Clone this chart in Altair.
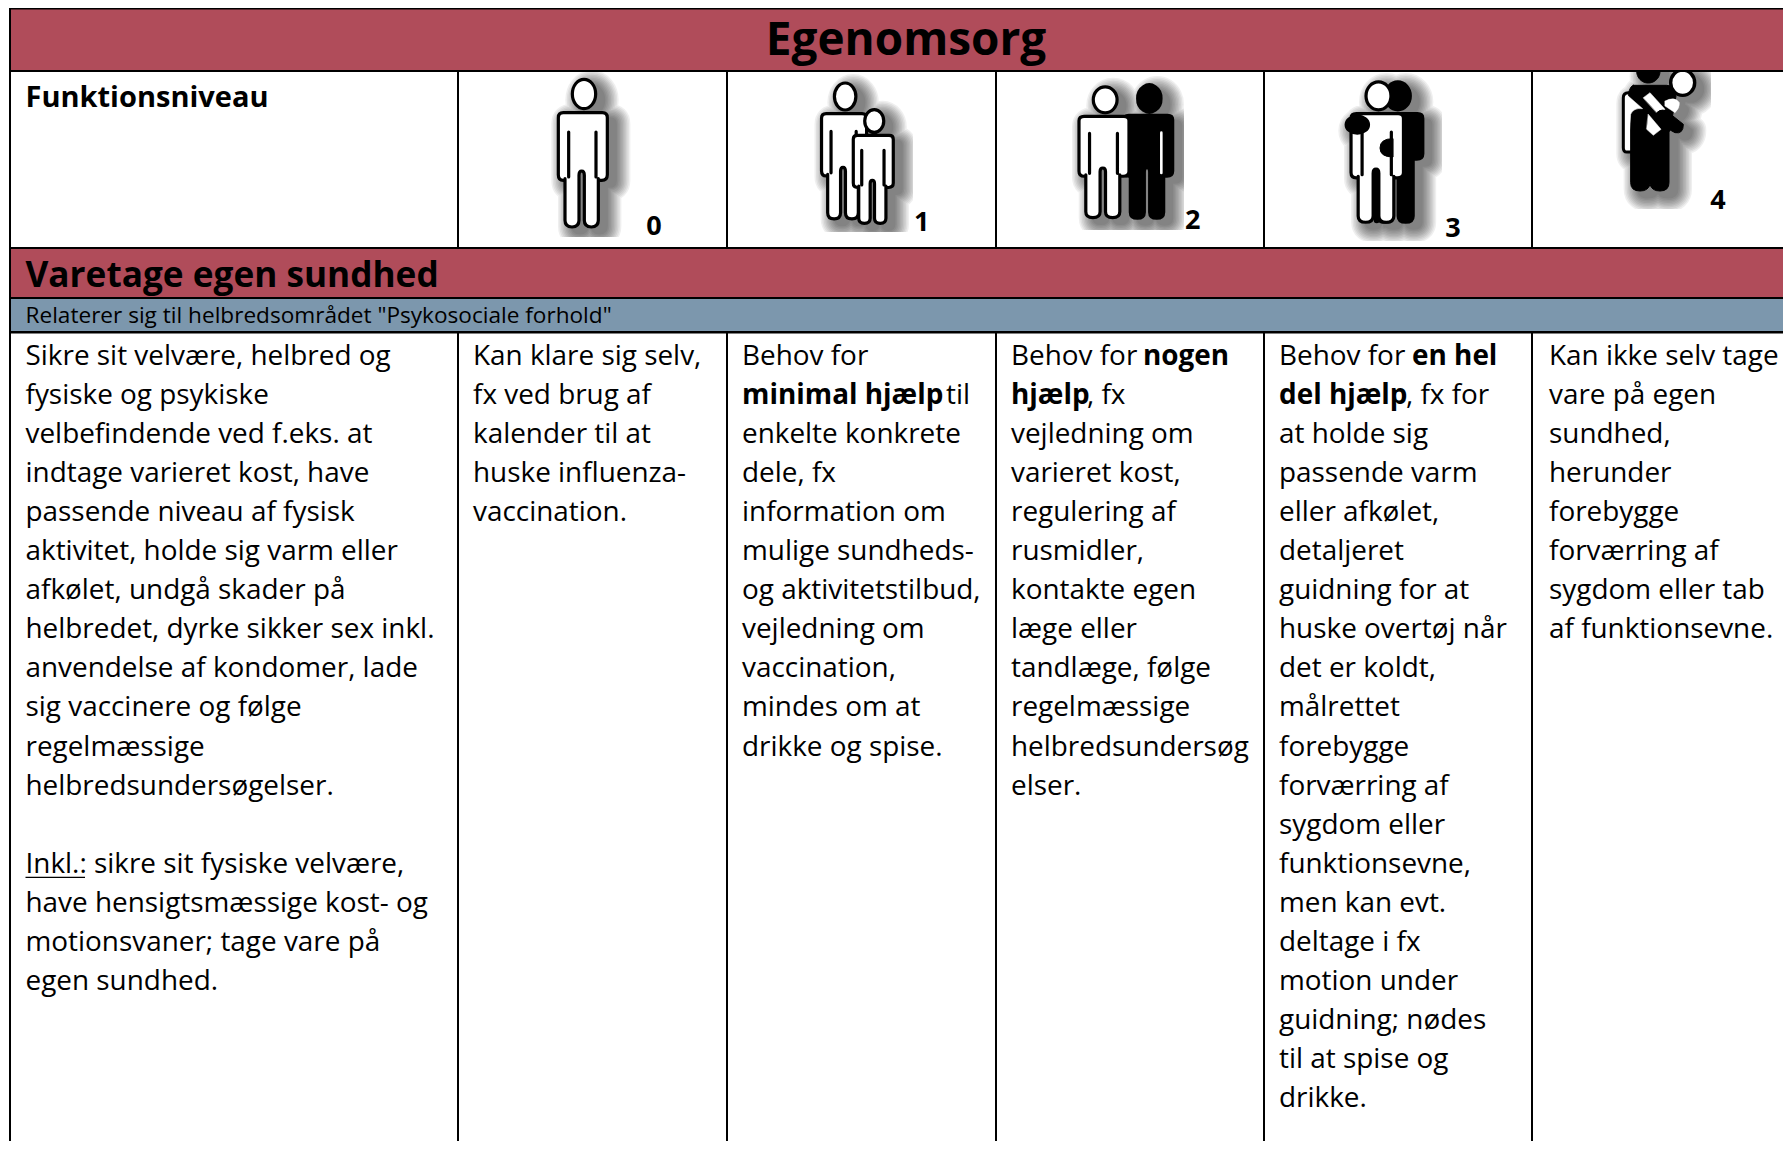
import re
import altair as alt
import pandas as pd

FONT = "Open Sans"
RED = "#B04C5A"
BLUE = "#7C97AD"

TITLE = "Egenomsorg"
ROW_LABEL = "Funktionsniveau"
SECTION = "Varetage egen sundhed"
SUBSECTION = 'Relaterer sig til helbredsområdet "Psykosociale forhold"'
LEVELS = ["0", "1", "2", "3", "4"]
LEVEL_X = [654, 921.6, 1192.6, 1453, 1718]
LEVEL_Y = [235, 231, 229, 237, 209]

COL_LINES_X = [10, 458, 727, 996, 1264, 1532]
ROW_LINES_Y = [71, 248, 298, 332]
COL_TEXT_X = [25.5, 473, 742, 1011, 1279, 1549]
BASE_Y = 365
LINE_H = 39.05
X_END = 1783
Y_END = 1141

COL0 = ["Sikre sit velvære, helbred og", "fysiske og psykiske", "velbefindende ved f.eks. at",
        "indtage varieret kost, have", "passende niveau af fysisk", "aktivitet, holde sig varm eller",
        "afkølet, undgå skader på", "helbredet, dyrke sikker sex inkl.", "anvendelse af kondomer, lade",
        "sig vaccinere og følge", "regelmæssige", "helbredsundersøgelser.", "",
        "Inkl.: sikre sit fysiske velvære,", "have hensigtsmæssige kost- og",
        "motionsvaner; tage vare på", "egen sundhed."]
COL1 = ["Kan klare sig selv,", "fx ved brug af", "kalender til at", "huske influenza-", "vaccination."]
COL2 = ["Behov for", "", "enkelte konkrete", "dele, fx", "information om", "mulige sundheds-",
        "og aktivitetstilbud,", "vejledning om", "vaccination,", "mindes om at", "drikke og spise."]
COL3 = ["Behov for", "", "vejledning om", "varieret kost,", "regulering af", "rusmidler,",
        "kontakte egen", "læge eller", "tandlæge, følge", "regelmæssige", "helbredsundersøg", "elser."]
COL4 = ["Behov for", "", "at holde sig", "passende varm", "eller afkølet,", "detaljeret",
        "guidning for at", "huske overtøj når", "det er koldt,", "målrettet", "forebygge",
        "forværring af", "sygdom eller", "funktionsevne,", "men kan evt.", "deltage i fx",
        "motion under", "guidning; nødes", "til at spise og", "drikke."]
COL5 = ["Kan ikke selv tage", "vare på egen", "sundhed,", "herunder", "forebygge", "forværring af",
        "sygdom eller tab", "af funktionsevne."]
COLUMNS = [COL0, COL1, COL2, COL3, COL4, COL5]

# (text, x, line, bold)
MIXED = [("minimal hjælp", 742, 1, True), ("til", 946, 1, False),
         ("nogen", 1143, 0, True), ("hjælp", 1011, 1, True), (", fx", 1087, 1, False),
         ("en hel", 1412, 0, True), ("del hjælp", 1279, 1, True), (", fx for", 1406, 1, False)]

# ---------- pictogram geometry helpers (units: 1/3 px, local to the icon) ----------
PERSON = ("M -55 -118 L 62 -118 Q 77 -118 77 -103 L 77 {a0} Q 77 {a1} 60 {a1} Q 50 {a1} 50 {a2} "
          "L 50 205 Q 50 225 29 225 Q 8 225 8 205 L 8 70 Q 8 57 0 57 Q -8 57 -8 70 L -8 205 "
          "Q -8 225 -29 225 Q -50 225 -50 205 L -50 80 Q -50 85 -55 85 Q -70 85 -70 68 "
          "L -70 -103 Q -70 -118 -55 -118 Z")
SLITS = "M 43 -60 L 43 75 M -39 -60 L -39 75"


def scaled(path, cx=0, cy=0, sx=1, sy=1):
    idx = [0]

    def rep(m):
        v = float(m.group())
        i = idx[0]
        idx[0] += 1
        return f"{(cx + v * sx if i % 2 == 0 else cy + v * sy) / 3:.2f}"
    return re.sub(r"-?\d+\.?\d*", rep, path)


def ellipse(cx, cy, rx, ry):
    x0, x1, y, a, b = (cx - rx) / 3, (cx + rx) / 3, cy / 3, rx / 3, ry / 3
    return f"M {x0:.2f} {y:.2f} A {a:.2f} {b:.2f} 0 1 1 {x1:.2f} {y:.2f} A {a:.2f} {b:.2f} 0 1 1 {x0:.2f} {y:.2f} Z"


def person(cx, cy, sx, sy, arm=85, slits=True):
    body = PERSON.format(a0=arm - 17, a1=arm, a2=arm - 5)
    p = scaled(body, cx, cy, sx, sy) + " " + ellipse(cx + 7 * sx, cy - 174 * sy, 35 * sx, 44 * sy)
    if slits:
        p += " " + scaled(SLITS, cx, cy, sx, sy)
    return p


ANCHORS = [(530, 72), (790, 72), (1060, 72), (1325, 72), (1600, 66)]
IMG_BOUNDS = [(538, 647, 237), (812, 913, 232), (1065, 1184, 230), (1338, 1442, 241), (1609, 1711, 209)]

K = "#000000"
W = "#ffffff"
ICON_PARTS = [
    [(person(155, 240, 1, 1), W, K, 3.2)],
    [(person(159, 233.6, .92, .92), W, K, 3.2), (person(247, 281, .816, .77), W, K, 3.2)],
    [(person(261, 236, 1, .9), K, K, 3.2),
     (scaled("M 304 182 L 304 303"), W, W, 2.6),
     (person(128.4, 237.5, 1.02, .886), W, K, 3.2)],
    [(person(211, 237, 1.07, .95, arm=26, slits=False), K, K, 3.2),
     (person(153, 237, 1.07, .95), W, K, 3.2),
     (ellipse(97, 158, 36, 28), K, K, 1.5),
     (scaled("M 203 200 Q 165 200 165 228 Q 165 255 203 255 Z"), K, K, 1),
     (scaled("M 155 300 L 155 445"), K, K, 6)],
    [(scaled("M 70 95 Q 70 80 85 80 L 100 80 L 100 258 L 80 258 Q 70 258 70 245 Z"), W, K, 3),
     (scaled("M 100 58 L 200 58 Q 225 58 228 90 L 215 165 L 207 200 L 207 350 Q 207 375 180 375 "
             "Q 155 375 150 355 Q 145 375 120 375 Q 92 375 92 350 L 92 140 Q 90 100 85 85 Q 90 60 100 58 Z"), K, K, 1),
     (scaled("M 82 88 L 128 128 Q 100 125 92 145 L 88 200 L 82 200 Z"), W, W, 0.5),
     (scaled("M 130 95 L 150 80 L 195 130 L 175 145 Z"), W, W, 0.5),
     (scaled("M 145 145 L 183 190 L 160 208 L 140 190 Z"), W, W, 0.5),
     (scaled("M 195 105 Q 225 90 238 110 Q 240 125 225 140 L 195 120 Z"), W, W, 0.5),
     (scaled("M 165 150 Q 175 125 200 135 L 250 175 Q 250 205 225 200 L 170 170 Z"), K, K, 1),
     (ellipse(145, 15, 35, 35), K, K, 1),
     (ellipse(248, 50, 36, 38), W, K, 3.4)],
]
SHADOW_WIDTHS = [30, 27, 24, 21, 18, 15, 12, 9, 6, 3]
SHADOW_OPACITY = 0.06
SHADOW_OFFSET = (8, 6)

# ---------- tables ----------
shadow_rows, figure_rows = [], []
for (ax, ay), parts in zip(ANCHORS, ICON_PARTS):
    merged = " ".join(p[0] for p in parts)
    for w in SHADOW_WIDTHS:
        shadow_rows.append(dict(x=ax + SHADOW_OFFSET[0], y=ay + SHADOW_OFFSET[1], path=merged,
                                fill=K, stroke=K, sw=w, op=SHADOW_OPACITY))
    for path, fill, stroke, sw in parts:
        figure_rows.append(dict(x=ax, y=ay, path=path, fill=fill, stroke=stroke, sw=sw, op=1))

mask_rows = []
for x0, x1, y1 in IMG_BOUNDS:
    mask_rows += [dict(x=x0 - 50, x2=x0, y=72, y2=247, c=W),
                  dict(x=x1, x2=x1 + 60, y=72, y2=247, c=W),
                  dict(x=x0 - 50, x2=x1 + 60, y=y1, y2=247, c=W)]

band_rows = [dict(x=10, x2=X_END, y=8, y2=71, c=RED),
             dict(x=10, x2=X_END, y=248, y2=298, c=RED),
             dict(x=10, x2=X_END, y=298, y2=332, c=BLUE)]

line_rows = [dict(x=10, x2=X_END, y=8, y2=9.6, c=K)]
for yy in ROW_LINES_Y:
    line_rows.append(dict(x=10, x2=X_END, y=yy - 1, y2=yy + 1, c=K))
line_rows.append(dict(x=10, x2=X_END, y=331, y2=333.4, c=K))
for i, xx in enumerate(COL_LINES_X):
    if i == 0:
        line_rows.append(dict(x=xx - 1, x2=xx + 1, y=8, y2=Y_END, c=K))
    else:
        line_rows.append(dict(x=xx - 1, x2=xx + 1, y=71, y2=248, c=K))
        line_rows.append(dict(x=xx - 1, x2=xx + 1, y=332, y2=Y_END, c=K))
line_rows.append(dict(x=25.5, x2=85, y=BASE_Y + 13 * LINE_H + 4, y2=BASE_Y + 13 * LINE_H + 5.4, c=K))

text_rows = []


def add(t, x, y, size, bold=False, align="left"):
    text_rows.append(dict(t=t, x=x, y=y, size=size, w="bold" if bold else "normal", a=align))


BODY = 27.9
for cx, lines in zip(COL_TEXT_X, COLUMNS):
    for i, line in enumerate(lines):
        if line:
            add(line, cx, BASE_Y + i * LINE_H, BODY)
for t, x, i, b in MIXED:
    add(t, x, BASE_Y + i * LINE_H, BODY, b)
add(TITLE, 906, 55, 45.9, True, "center")
add(ROW_LABEL, 25.5, 107, 29, True)
add(SECTION, 25.5, 286.5, 35.2, True)
add(SUBSECTION, 25.5, 323, 22.6)
for t, x, y in zip(LEVELS, LEVEL_X, LEVEL_Y):
    add(t, x, y, 27, True, "center")

# ---------- chart ----------
X = alt.X("x:Q", scale=alt.Scale(domain=[8, X_END], nice=False, zero=False), axis=None)
Y = alt.Y("y:Q", scale=alt.Scale(domain=[Y_END, 8], nice=False, zero=False), axis=None)


def points(rows):
    return alt.Chart(pd.DataFrame(rows)).mark_point(
        filled=True, strokeJoin="round", strokeCap="round", size=4
    ).encode(
        x=X, y=Y,
        shape=alt.Shape("path:N", scale=None, legend=None),
        fill=alt.Fill("fill:N", scale=None, legend=None),
        stroke=alt.Stroke("stroke:N", scale=None, legend=None),
        strokeWidth=alt.StrokeWidth("sw:Q", scale=None, legend=None),
        opacity=alt.Opacity("op:Q", scale=None, legend=None),
    )


def rects(rows):
    return alt.Chart(pd.DataFrame(rows)).mark_rect().encode(
        x=X, x2="x2:Q", y=Y, y2="y2:Q",
        color=alt.Color("c:N", scale=None, legend=None),
    )


texts = []
for (size, w, a), g in pd.DataFrame(text_rows).groupby(["size", "w", "a"]):
    texts.append(alt.Chart(g).mark_text(
        font=FONT, fontSize=size, fontWeight=w, align=a, baseline="alphabetic", color="#000000"
    ).encode(x=X, y=Y, text="t:N"))

chart = alt.layer(
    points(shadow_rows), rects(mask_rows), points(figure_rows),
    rects(band_rows), rects(line_rows), *texts
).properties(
    width=X_END - 8, height=Y_END - 8, padding=0, autosize=alt.AutoSizeParams(type="none"),
    background="#ffffff",
).configure_view(stroke=None)

chart.save("out.html", embed_options={"renderer": "svg", "actions": False})
